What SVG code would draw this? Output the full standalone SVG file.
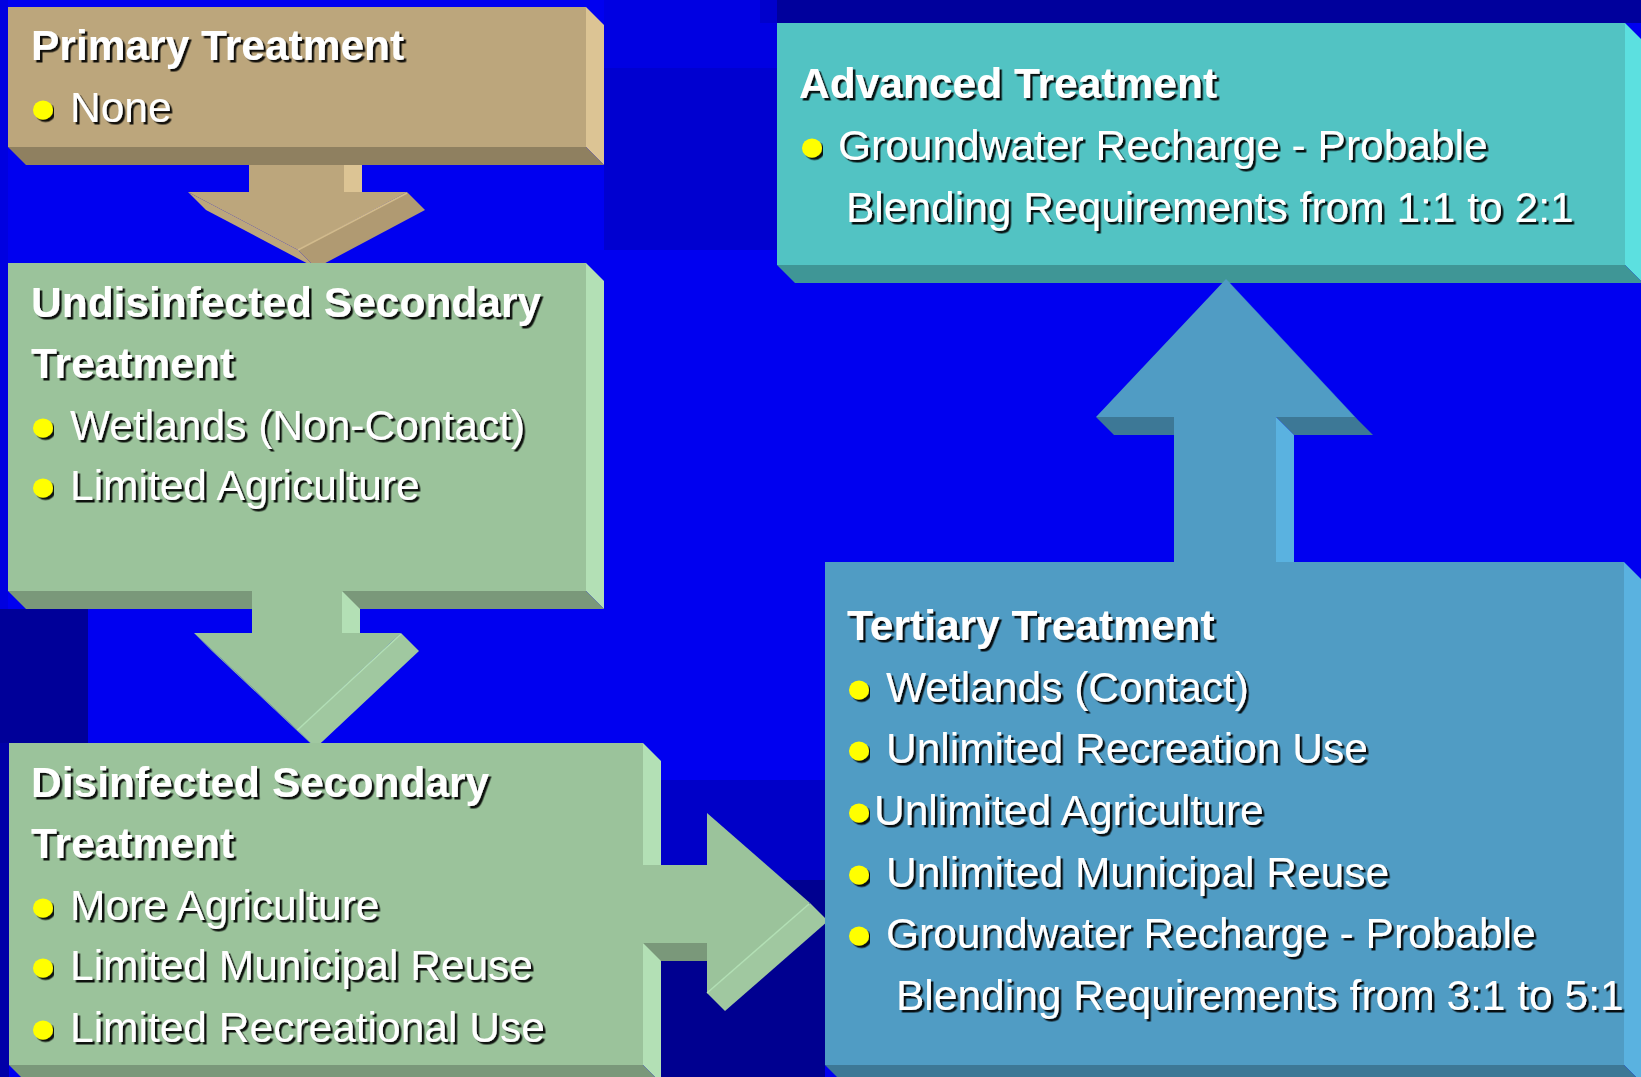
<svg xmlns="http://www.w3.org/2000/svg" width="1641" height="1077" viewBox="0 0 1641 1077">
<defs>
<filter id="sh" x="-5%" y="-30%" width="110%" height="160%">
<feDropShadow dx="2.5" dy="2.5" stdDeviation="0.4" flood-color="#000000" flood-opacity="0.9"/>
</filter>
<style>
.t{font-family:"Liberation Sans",Arial,sans-serif;font-size:42.5px;fill:#ffffff;filter:url(#sh)}
.b{font-weight:bold}
.dot{fill:#ffff00;filter:url(#sh)}
.tanF{fill:#bca67c}.tanS{fill:#dcc494}.tanB{fill:#8f8060}.tanR{fill:#b09a72}
.grF{fill:#9bc39b}.grS{fill:#b3e0b5}.grB{fill:#7a987a}.grR{fill:#a0c8a0}
.tlF{fill:#52c3c3}.tlS{fill:#5ce0e0}.tlB{fill:#3f9696}
.blF{fill:#509cc4}.blS{fill:#5ab2e0}.blB{fill:#3d7896}
.seam{stroke-width:1.5;fill:none}
</style>
</defs>
<g id="background">
<rect x="0" y="0" width="1641" height="1077" fill="#0000f0"/>
<rect x="0" y="0" width="8" height="609" fill="#0000e0"/>
<rect x="604" y="0" width="173" height="68" fill="#0000e2"/>
<rect x="604" y="68" width="173" height="182" fill="#0000d0"/>
<rect x="760" y="0" width="17" height="23" fill="#0000cc"/>
<rect x="777" y="0" width="864" height="23" fill="#00009c"/>
<rect x="0" y="609" width="88" height="134" fill="#000099"/>
<rect x="0" y="743" width="9" height="334" fill="#0000a8"/>
<rect x="661" y="780" width="164" height="100" fill="#0000c8"/>
<rect x="661" y="880" width="164" height="197" fill="#000090"/>
</g>

<g id="connectors">
<g id="arrow-primary-undis">
<polygon class="tanS" points="344,147 362,165 362,192 344,192"/>
<rect class="tanF" x="249" y="145" width="95" height="47"/>
<polygon class="tanF" points="188,192 298,250 316,268 206,210"/>
<polygon class="tanR" points="298,250 407,192 425,210 316,268"/>
<polygon class="tanF" points="188,192 407,192 298,250"/>
<line class="seam" x1="407" y1="193" x2="298" y2="250" stroke="#d2bb8c"/>
</g>
</g>

<g id="node-undisinfected">
<polygon class="grS" points="586,263 604,281 604,609 586,591"/>
<polygon class="grB" points="8,591 586,591 604,609 26,609"/>
<rect class="grF" x="8" y="263" width="578" height="328"/>
<text class="t b" x="31" y="317">Undisinfected Secondary</text>
<text class="t b" x="31" y="378">Treatment</text>
<ellipse class="dot" cx="43" cy="428" rx="10" ry="9.5"/>
<text class="t" x="70" y="440">Wetlands (Non-Contact)</text>
<ellipse class="dot" cx="43" cy="488" rx="10" ry="9.5"/>
<text class="t" x="70" y="500">Limited Agriculture</text>
</g>

<g id="node-primary">
<polygon class="tanS" points="586,7 604,25 604,165 586,147"/>
<polygon class="tanB" points="8,147 586,147 604,165 26,165"/>
<rect class="tanF" x="8" y="7" width="578" height="140"/>
<text class="t b" x="31" y="60">Primary Treatment</text>
<ellipse class="dot" cx="43" cy="110" rx="10" ry="9.5"/>
<text class="t" x="70" y="122">None</text>
</g>

<g id="connectors-2">
<g id="arrow-undis-disinf">
<polygon class="grS" points="342,591 360,609 360,633 342,633"/>
<rect class="grF" x="252" y="589" width="90" height="44"/>
<polygon class="grF" points="194,633 297.5,730 315.5,748 212,651"/>
<polygon class="grR" points="297.5,730 401,633 419,651 315.5,748"/>
<polygon class="grF" points="194,633 401,633 297.5,730"/>
<line class="seam" x1="401" y1="634" x2="297.5" y2="730" stroke="#b3e0b5"/>
</g>
</g>

<g id="node-disinfected">
<polygon class="grS" points="643,743 661,761 661,1083 643,1065"/>
<polygon class="grB" points="9,1065 643,1065 661,1083 27,1083"/>
<rect class="grF" x="9" y="743" width="634" height="322"/>
<text class="t b" x="31" y="797">Disinfected Secondary</text>
<text class="t b" x="31" y="858">Treatment</text>
<ellipse class="dot" cx="43" cy="908" rx="10" ry="9.5"/>
<text class="t" x="70" y="920">More Agriculture</text>
<ellipse class="dot" cx="43" cy="968" rx="10" ry="9.5"/>
<text class="t" x="70" y="980">Limited Municipal Reuse</text>
<ellipse class="dot" cx="43" cy="1030" rx="10" ry="9.5"/>
<text class="t" x="70" y="1042">Limited Recreational Use</text>
</g>

<g id="connectors-3">
<g id="arrow-disinf-tertiary">
<polygon class="grB" points="643,943 707,943 725,961 661,961"/>
<rect class="grF" x="641" y="865" width="66" height="78"/>
<polygon class="grR" points="810,903 707,993 725,1011 828,921"/>
<polygon class="grF" points="707,813 810,903 707,993"/>
<line class="seam" x1="809" y1="904" x2="707" y2="993" stroke="#b3e0b5"/>
</g>
</g>

<g id="node-tertiary">
<polygon class="blS" points="1624,562 1642,580 1642,1083 1624,1065"/>
<polygon class="blB" points="825,1065 1624,1065 1642,1083 843,1083"/>
<rect class="blF" x="825" y="562" width="799" height="503"/>
<text class="t b" x="847" y="640">Tertiary Treatment</text>
<ellipse class="dot" cx="859" cy="690" rx="10" ry="9.5"/>
<text class="t" x="886" y="702">Wetlands (Contact)</text>
<ellipse class="dot" cx="859" cy="751" rx="10" ry="9.5"/>
<text class="t" x="886" y="763">Unlimited Recreation Use</text>
<ellipse class="dot" cx="859" cy="813" rx="10" ry="9.5"/>
<text class="t" x="874" y="825">Unlimited Agriculture</text>
<ellipse class="dot" cx="859" cy="875" rx="10" ry="9.5"/>
<text class="t" x="886" y="887">Unlimited Municipal Reuse</text>
<ellipse class="dot" cx="859" cy="936" rx="10" ry="9.5"/>
<text class="t" x="886" y="948">Groundwater Recharge - Probable</text>
<text class="t" x="896" y="1010">Blending Requirements from 3:1 to 5:1</text>
</g>

<g id="node-advanced">
<polygon class="tlS" points="1625,23 1643,41 1643,283 1625,265"/>
<polygon class="tlB" points="777,265 1625,265 1643,283 795,283"/>
<rect class="tlF" x="777" y="23" width="848" height="242"/>
<text class="t b" x="799" y="98">Advanced Treatment</text>
<ellipse class="dot" cx="812" cy="148" rx="10" ry="9.5"/>
<text class="t" x="838" y="160">Groundwater Recharge - Probable</text>
<text class="t" x="846" y="222">Blending Requirements from 1:1 to 2:1</text>
</g>

<g id="connectors-4">
<g id="arrow-tertiary-advanced">
<polygon class="blB" points="1096,417 1174,417 1192,435 1114,435"/>
<polygon class="blB" points="1276,417 1355,417 1373,435 1294,435"/>
<polygon class="blS" points="1226,279 1355,417 1358,420 1229,282"/>
<polygon class="blS" points="1276,417 1294,435 1294,562 1276,562"/>
<rect class="blF" x="1174" y="415" width="102" height="149"/>
<polygon class="blF" points="1096,417 1226,279 1355,417"/>
</g>
</g>
</svg>
